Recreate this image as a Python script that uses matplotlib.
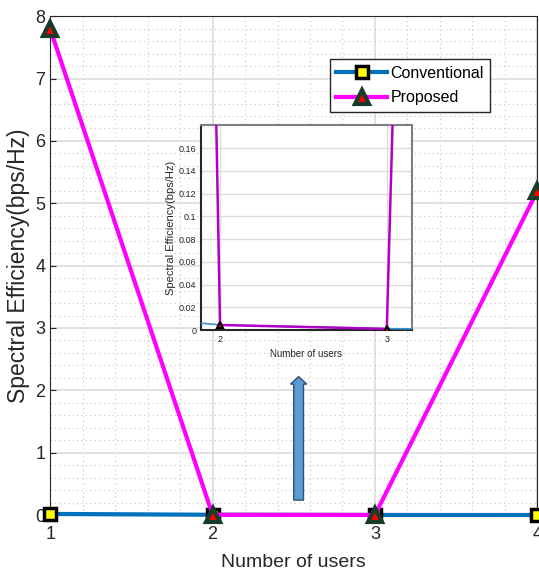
import matplotlib.pyplot as plt
from matplotlib.ticker import MultipleLocator
from matplotlib.patches import FancyArrow

plt.rcParams['font.family'] = ['Liberation Sans', 'DejaVu Sans']

users = [1, 2, 3, 4]
conventional = [0.018, 0.0045, 0.0012, 0.0005]
proposed = [7.8, 0.0044, 0.001, 5.2]

blue = '#0072BD'
magenta = '#FF00FF'
dkgreen = '#173d2a'

fig = plt.figure(figsize=(5.39, 5.80), dpi=100)
ax = fig.add_axes([0.093, 0.112, 0.904, 0.86])

ax.plot(users, conventional, color=blue, lw=3, marker='s', ms=9,
        mfc='yellow', mec='black', mew=2.5, label='Conventional', zorder=3, clip_on=False)
ax.plot(users, proposed, color=magenta, lw=3, marker='^', ms=10,
        mfc='red', mec=dkgreen, mew=3, label='Proposed', zorder=4, clip_on=False)

ax.set_xlim(1, 4)
ax.set_ylim(0, 8)
ax.set_xticks(users)
ax.set_yticks(range(0, 9))
ax.xaxis.set_minor_locator(MultipleLocator(0.2))
ax.yaxis.set_minor_locator(MultipleLocator(0.2))
ax.grid(which='major', color='#dcdcdc', lw=1.2, ls='-')
ax.grid(which='minor', color='#c4c4c4', lw=0.8, ls=(0, (1, 3)))
ax.tick_params(which='both', direction='in', labelsize=13, colors='#262626', length=4)
ax.tick_params(which='minor', length=0)
ax.tick_params(axis='x', pad=8)
for s in ax.spines.values():
    s.set_color('#262626')
ax.set_xlabel('Number of users', fontsize=14, color='#262626', labelpad=8)
ax.set_ylabel('Spectral Efficiency(bps/Hz)', fontsize=16.5, color='#262626', labelpad=4)

leg = ax.legend(loc='upper right', bbox_to_anchor=(0.92, 0.93), fontsize=11.5,
                frameon=True, fancybox=False, edgecolor='#262626', framealpha=1,
                handlelength=3.2, borderpad=0.4, labelspacing=0.6, handletextpad=0.2)
leg.get_frame().set_linewidth(1.0)

# arrow pointing at the inset
ax.add_patch(FancyArrow(2.53, 0.24, 0, 1.86, width=0.06, head_width=0.1,
                        head_length=0.12, length_includes_head=False,
                        facecolor='#5b9bd5', edgecolor='#2f4f6f', lw=1, zorder=5))

# inset zoom
ins = fig.add_axes([0.373, 0.431, 0.391, 0.353])
ins.plot(users, conventional, color='#3a90d0', lw=1.2, zorder=3)
ins.plot(users, proposed, color='#b000c8', lw=1.8, marker='^', ms=5,
         mfc='red', mec='black', mew=1.5, zorder=4)
ins.set_xlim(1.886, 3.15)
ins.set_ylim(0, 0.18)
ins.set_xticks([2, 3])
ins.set_yticks([0, 0.02, 0.04, 0.06, 0.08, 0.1, 0.12, 0.14, 0.16])
ins.set_yticklabels(['0', '0.02', '0.04', '0.06', '0.08', '0.1', '0.12', '0.14', '0.16'])
ins.grid(color='#dcdcdc', lw=1)
ins.tick_params(direction='in', labelsize=6.5, colors='#262626', length=0)
for s in ins.spines.values():
    s.set_color('#7f7f7f')
    s.set_linewidth(1.5)
ins.spines['bottom'].set_color('#262626')
ins.spines['left'].set_color('#262626')
ins.set_xlabel('Number of users', fontsize=7, color='#262626')
ins.set_ylabel('Spectral Efficiency(bps/Hz)', fontsize=8, color='#262626', labelpad=2)

fig.savefig('out.png', dpi=100)
